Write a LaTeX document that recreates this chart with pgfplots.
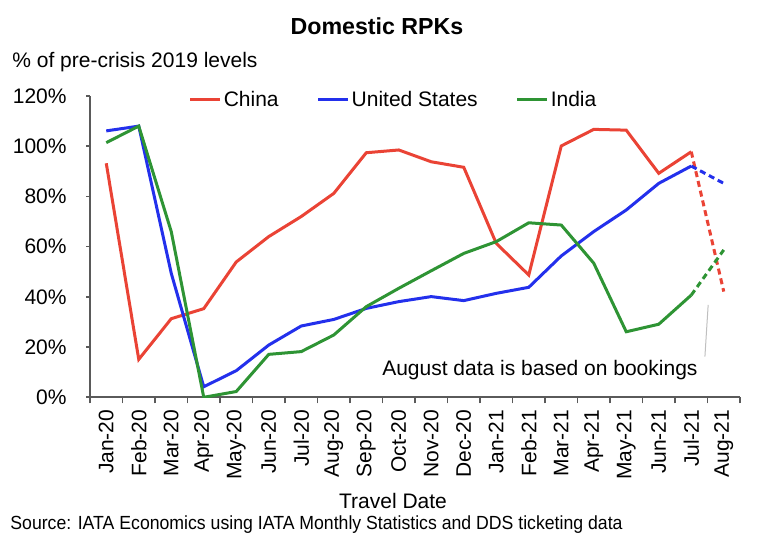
\documentclass[border=0pt]{standalone}
\usepackage{fontspec}
\setmainfont{Liberation Sans}
\usepackage{pgfplots}
\usepackage{pgfplotstable}
\pgfplotsset{compat=1.18}
\definecolor{cnred}{RGB}{234,67,53}
\definecolor{usblue}{RGB}{35,48,236}
\definecolor{ingreen}{RGB}{46,148,52}
\definecolor{axgray}{RGB}{90,90,90}

% months at 0.5, 1.5, ... ; values in % of 2019
\pgfplotstableread{
x    china us    india
0.5  93.2  106.1 101.4
1.5  15.1  108.0 108.0
2.5  31.3  49.4  66.0
3.5  35.3  4.2   0.0
4.5  53.9  10.6  2.3
5.5  64.0  20.8  17.1
6.5  72.0  28.4  18.2
7.5  81.2  31.0  24.8
8.5  97.4  35.4  36.1
9.5  98.5  38.1  43.4
10.5 93.8  40.1  50.4
11.5 91.6  38.5  57.3
12.5 61.3  41.4  62.0
13.5 48.7  43.8  69.5
14.5 100.1 56.3  68.6
15.5 106.7 66.0  53.4
16.5 106.4 74.6  26.1
17.5 89.2  85.2  29.1
18.5 97.8  92.1  40.7
}\solidtab

% August 2021 is based on bookings
\pgfplotstableread{
x    china us    india
18.5 97.8  92.1  40.7
19.5 42.1  85.2  58.7
}\dashtab

\newcommand\lbl{\fontsize{10.5}{12}\selectfont}

\begin{document}
\begin{tikzpicture}
\path (0pt,0pt) rectangle (381.5pt,274.5pt);
\begin{axis}[
  at={(45pt,75.85pt)}, anchor=south west,
  width=325pt, height=150.65pt, scale only axis,
  xmin=0, xmax=20, ymin=0, ymax=120,
  axis x line*=bottom, axis y line*=left,
  axis line style={axgray, line width=0.8pt},
  tick style={axgray, line width=0.8pt},
  tick align=outside,
  major tick length=2pt, minor tick length=3pt,
  ytick={0,20,...,120},
  yticklabels={0\%,20\%,40\%,60\%,80\%,100\%,120\%},
  xtick={0.5,1.5,...,19.5},
  xticklabels={Jan-20,Feb-20,Mar-20,Apr-20,May-20,Jun-20,Jul-20,Aug-20,Sep-20,Oct-20,Nov-20,Dec-20,Jan-21,Feb-21,Mar-21,Apr-21,May-21,Jun-21,Jul-21,Aug-21},
  major x tick style={draw=none},
  minor xtick={0,1,...,20},
  tick label style={font=\lbl, inner sep=0pt},
  yticklabel shift=9.5pt,
  xticklabel shift=4pt,
  x tick label style={rotate=90, anchor=east},
  legend columns=-1,
  legend style={draw=none, fill=none, font=\lbl,
    at={(rel axis cs:0.467,0.987)}, anchor=center,
    inner sep=0pt,
    nodes={inner sep=1pt},
    /tikz/every odd column/.append style={column sep=0pt},
    /tikz/every even column/.append style={column sep=18pt}},
  legend image code/.code={\draw[#1] (0pt,0pt) -- (15pt,0pt);},
]
\addplot[cnred, line width=1.5pt] table[x=x, y=china] {\solidtab};
\addlegendentry{China}
\addplot[usblue, line width=1.5pt] table[x=x, y=us] {\solidtab};
\addlegendentry{United States}
\addplot[ingreen, line width=1.5pt] table[x=x, y=india] {\solidtab};
\addlegendentry{India}
\addplot[cnred, line width=1.5pt, dash pattern=on 3pt off 2pt, forget plot] table[x=x, y=china] {\dashtab};
\addplot[usblue, line width=1.5pt, dash pattern=on 3pt off 2pt, forget plot] table[x=x, y=us] {\dashtab};
\addplot[ingreen, line width=1.5pt, dash pattern=on 3pt off 2pt, forget plot] table[x=x, y=india] {\dashtab};
\draw[black!25, line width=0.5pt] (axis cs:18.92,16.2) -- (axis cs:19.02,36.8);
\node[anchor=base west, inner sep=0pt, font=\lbl] at (axis cs:8.98,8.5) {August data is based on bookings};
\end{axis}
\node[anchor=base, inner sep=0pt, font=\fontsize{11.6}{13}\selectfont\bfseries] at (188.5pt,257pt) {Domestic RPKs};
\node[anchor=base west, inner sep=0pt, font=\lbl] at (6pt,240.5pt) {\% of pre-crisis 2019 levels};
\node[anchor=base, inner sep=0pt, font=\lbl] at (196.5pt,20pt) {Travel Date};
\node[anchor=base west, inner sep=0pt, font=\fontsize{9.5}{10}\selectfont] at (5pt,9.5pt) {\scalebox{0.93}[1]{Source: IATA Economics using IATA Monthly Statistics and DDS ticketing data}};
\end{tikzpicture}
\end{document}
